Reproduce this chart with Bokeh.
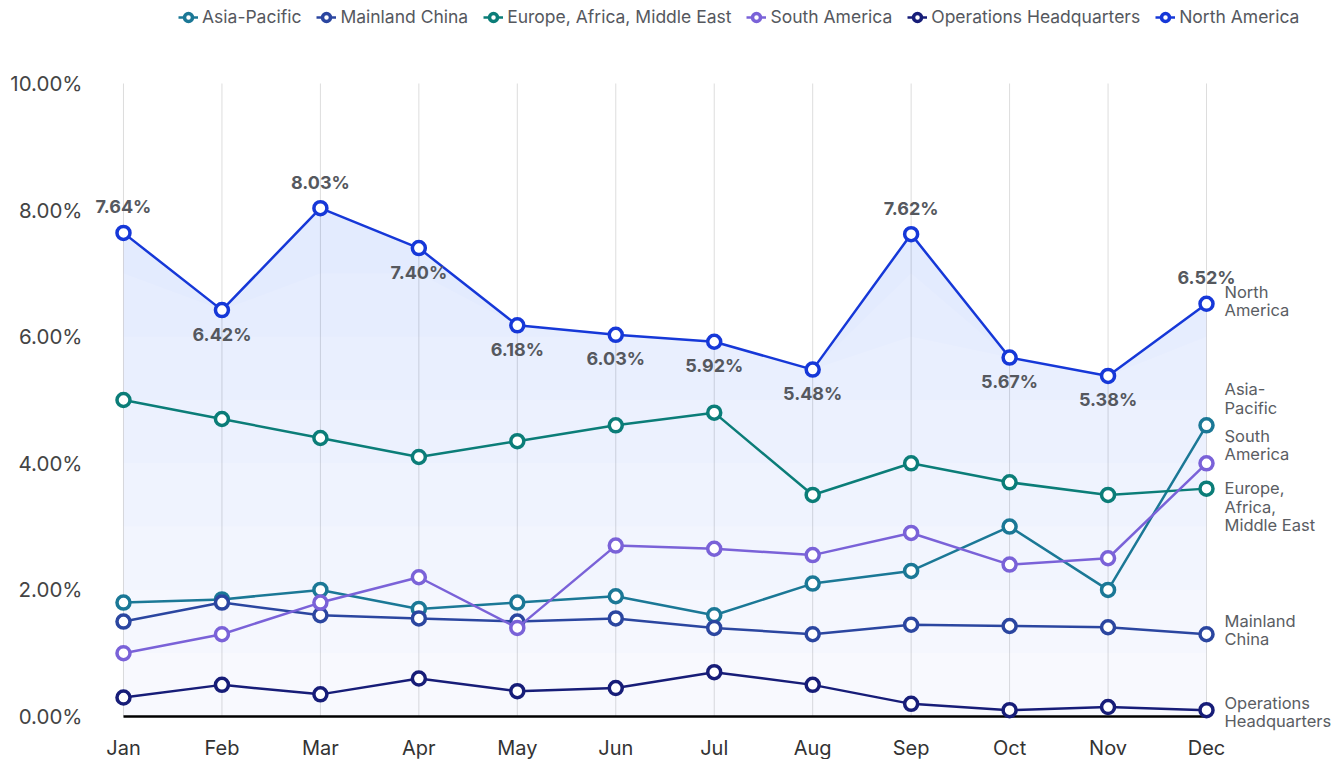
import numpy as np
from bokeh.plotting import figure
from bokeh.models import (ColumnDataSource, FixedTicker, PrintfTickFormatter, Legend, LegendItem,
                          Range1d, Label)
from bokeh.core.properties import value
from bokeh.embed import file_html
from bokeh.resources import INLINE

months = ["Jan", "Feb", "Mar", "Apr", "May", "Jun", "Jul", "Aug", "Sep", "Oct", "Nov", "Dec"]
asia_pacific = [1.8, 1.85, 2.0, 1.7, 1.8, 1.9, 1.6, 2.1, 2.3, 3.0, 2.0, 4.6]
mainland_china = [1.5, 1.8, 1.6, 1.55, 1.5, 1.55, 1.4, 1.3, 1.45, 1.43, 1.41, 1.3]
emea = [5.0, 4.7, 4.4, 4.1, 4.35, 4.6, 4.8, 3.5, 4.0, 3.7, 3.5, 3.6]
south_america = [1.0, 1.3, 1.8, 2.2, 1.4, 2.7, 2.65, 2.55, 2.9, 2.4, 2.5, 4.0]
ops_hq = [0.3, 0.5, 0.35, 0.6, 0.4, 0.45, 0.7, 0.5, 0.2, 0.1, 0.15, 0.1]
north_america = [7.64, 6.42, 8.03, 7.40, 6.18, 6.03, 5.92, 5.48, 7.62, 5.67, 5.38, 6.52]
y_ticks = [0, 2, 4, 6, 8, 10]

series = [
    ("Asia-Pacific", asia_pacific, "#1b7896", "Asia-\nPacific", 27),
    ("Mainland China", mainland_china, "#2b46a0", "Mainland\nChina", 4),
    ("Europe, Africa, Middle East", emea, "#0b7d78", "Europe,\nAfrica,\nMiddle East", -18),
    ("South America", south_america, "#7a62d8", "South\nAmerica", 18),
    ("Operations Headquarters", ops_hq, "#171d78", "Operations\nHeadquarters", -2),
    ("North America", north_america, "#1638d8", "North\nAmerica", 3),
]

x = np.arange(len(months))
FONT = "Inter"

p = figure(width=1334, height=759, output_backend="svg", toolbar_location=None,
           x_range=Range1d(-0.335, 12.30), y_range=Range1d(-0.679, 11.311),
           min_border_left=90, min_border_right=0, min_border_top=0, min_border_bottom=0)
p.outline_line_color = None
p.background_fill_color = "white"
p.border_fill_color = "white"

# vertical grid lines (month positions, from 0 to top tick)
p.segment(x0=x, y0=np.full(len(x), y_ticks[0]), x1=x, y1=np.full(len(x), y_ticks[-1]),
          line_color="#dddddd", line_width=1)

# gradient-like area under North America
na = np.array(north_america)
p.varea(x=x, y1=np.zeros_like(na), y2=na, fill_color="#1638d8", fill_alpha=0.03)
for lvl in np.arange(1.0, 9.0, 1.0):
    p.varea(x=x, y1=np.minimum(na, lvl), y2=na, fill_color="#1638d8", fill_alpha=0.01)

# baseline
p.line(x=[x[0], x[-1]], y=[0, 0], line_color="black", line_width=2.5)

items = []
for name, vals, color, short, yoff in series:
    src = ColumnDataSource(dict(x=x, y=vals))
    r1 = p.line("x", "y", source=src, line_color=color, line_width=2.5)
    r2 = p.scatter("x", "y", source=src, size=13, fill_color="white", line_color=color, line_width=3.5)
    items.append(LegendItem(label=name, renderers=[r1, r2]))
    p.add_layout(Label(x=x[-1], y=vals[-1], text=short, x_offset=18, y_offset=yoff,
                       text_font=FONT, text_font_size="16.5px", text_color="#5a5d63",
                       text_baseline="middle", text_align="left", text_line_height=0.92))

# data labels for North America
peaks = []
for i, v in enumerate(north_america):
    left = north_america[i - 1] if i > 0 else -1
    right = north_america[i + 1] if i < len(north_america) - 1 else -1
    peaks.append(v > left and v > right)
lab_src = ColumnDataSource(dict(
    x=x, y=north_america,
    t=["%.2f%%" % v for v in north_america],
    off=[-26 if pk else 24 for pk in peaks]))
p.text("x", "y", text="t", y_offset="off", source=lab_src, text_font=value(FONT),
       text_font_size="18px", text_font_style="bold", text_color="#55585e",
       text_align="center", text_baseline="middle")

# month labels
m_src = ColumnDataSource(dict(x=x, y=np.zeros(len(x)), m=months))
p.text("x", "y", text="m", source=m_src, y_offset=31, text_font=value(FONT),
       text_font_size="20px", text_color="#333333", text_align="center",
       text_baseline="middle")

# axes
p.xaxis.visible = False
p.yaxis.ticker = FixedTicker(ticks=y_ticks)
p.yaxis.formatter = PrintfTickFormatter(format="%.2f%%")
p.yaxis.axis_line_color = None
p.yaxis.major_tick_line_color = None
p.yaxis.minor_tick_line_color = None
p.yaxis.major_label_standoff = 2
p.yaxis.major_label_text_font = FONT
p.yaxis.major_label_text_font_size = "20.5px"
p.yaxis.major_label_text_color = "#444444"

p.xgrid.visible = False
p.ygrid.visible = False

legend = Legend(items=items, orientation="horizontal", location=(88, 732),
                label_text_font=FONT, label_text_font_size="17.5px", label_text_color="#55585e",
                glyph_width=20, glyph_height=20, label_standoff=4, spacing=15,
                padding=2, margin=0, background_fill_alpha=0, border_line_color=None,
                label_height=20)
p.add_layout(legend)

open("out.html", "w").write(file_html(p, INLINE))
